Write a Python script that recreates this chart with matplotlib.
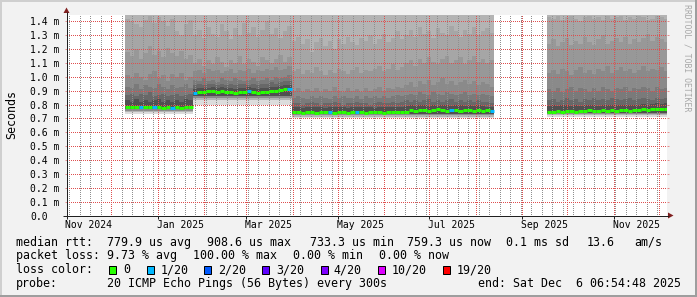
import numpy as np
import matplotlib
matplotlib.use('Agg')
import matplotlib.pyplot as plt
import matplotlib.dates as mdates
from matplotlib.collections import LineCollection
from matplotlib.patches import Rectangle, Polygon
from matplotlib.ticker import MultipleLocator, FuncFormatter, NullFormatter

plt.rcParams['font.family'] = 'DejaVu Sans Mono'

# ---------------- data: smokeping rtt, values in ms, one value per 3 days ----------------
run_start = ['2024-12-10T12:00', '2025-09-17T12:00']
run_len = [82, 27]
seg_len = [15, 22, 45, 27]          # periods with a different smoke shape

# median rtt
med = [
    0.785, 0.785, 0.78, 0.785, 0.78, 0.78, 0.785, 0.78, 0.775, 0.78, 0.775, 0.78, 0.775, 0.78, 0.78,
    0.885, 0.89, 0.89, 0.895, 0.895, 0.89, 0.895, 0.89, 0.89, 0.885, 0.89, 0.89, 0.895, 0.89, 0.885,
    0.89, 0.89, 0.895, 0.90, 0.905, 0.91, 0.915,
    0.745, 0.745, 0.74, 0.745, 0.745, 0.74, 0.745, 0.745, 0.745, 0.74, 0.745, 0.745, 0.74, 0.745, 0.745,
    0.745, 0.74, 0.745, 0.745, 0.745, 0.74, 0.745, 0.75, 0.745, 0.745, 0.75, 0.76, 0.755, 0.76, 0.76,
    0.755, 0.76, 0.765, 0.76, 0.755, 0.76, 0.76, 0.755, 0.76, 0.76, 0.755, 0.76, 0.755, 0.76, 0.755,
    0.75, 0.75, 0.755, 0.75, 0.755, 0.755, 0.75, 0.755, 0.755, 0.76, 0.755, 0.755, 0.76, 0.755, 0.76,
    0.755, 0.76, 0.76, 0.755, 0.76, 0.76, 0.765, 0.76, 0.765, 0.77, 0.765, 0.77,
]
# upper smoke edges, outer to inner
hi1 = [
    1.42, 1.40, 1.38, 1.36, 1.41, 1.44, 1.39, 1.43, 1.40, 1.37, 1.42, 1.33, 1.30, 1.38, 1.41,
    1.30, 1.34, 1.28, 1.36, 1.31, 1.29, 1.38, 1.33, 1.27, 1.35, 1.30, 1.39, 1.32, 1.36, 1.29,
    1.34, 1.40, 1.31, 1.35, 1.28, 1.33, 1.37,
    1.26, 1.29, 1.24, 1.27, 1.18, 1.25, 1.28, 1.22, 1.26, 1.20, 1.27, 1.24, 1.29, 1.25, 1.23,
    1.28, 1.26, 1.30, 1.24, 1.27, 1.31, 1.25, 1.28, 1.33, 1.27, 1.30, 1.34, 1.29, 1.36, 1.31,
    1.33, 1.28, 1.35, 1.32, 1.30, 1.37, 1.33, 1.29, 1.34, 1.31, 1.36, 1.30, 1.33, 1.35, 1.32,
    1.43, 1.42, 1.44, 1.41, 1.43, 1.44, 1.42, 1.40, 1.43, 1.44, 1.42, 1.43, 1.41, 1.44, 1.42,
    1.43, 1.44, 1.41, 1.43, 1.42, 1.44, 1.43, 1.41, 1.42, 1.44, 1.43, 1.42,
]
hi2 = [
    1.18, 1.15, 1.20, 1.13, 1.17, 1.22, 1.16, 1.19, 1.14, 1.21, 1.17, 1.15, 1.19, 1.13, 1.16,
    1.10, 1.13, 1.08, 1.12, 1.09, 1.14, 1.11, 1.07, 1.12, 1.10, 1.15, 1.09, 1.13, 1.11, 1.08,
    1.14, 1.12, 1.10, 1.13, 1.16, 1.11, 1.14,
    1.04, 1.06, 1.02, 1.05, 1.03, 1.07, 1.04, 1.01, 1.05, 1.03, 1.06, 1.04, 1.02, 1.05, 1.07,
    1.03, 1.05, 1.04, 1.06, 1.08, 1.04, 1.06, 1.09, 1.05, 1.07, 1.10, 1.12, 1.08, 1.13, 1.10,
    1.14, 1.11, 1.09, 1.13, 1.15, 1.10, 1.12, 1.14, 1.09, 1.12, 1.15, 1.11, 1.13, 1.10, 1.12,
    1.24, 1.27, 1.22, 1.25, 1.28, 1.23, 1.26, 1.24, 1.29, 1.25, 1.23, 1.27, 1.30, 1.24, 1.26,
    1.28, 1.25, 1.29, 1.24, 1.27, 1.25, 1.28, 1.31, 1.26, 1.29, 1.27, 1.25,
]
hi3 = [
    1.01, 0.99, 1.03, 1.00, 0.98, 1.02, 1.04, 0.99, 1.01, 0.97, 1.02, 1.00, 1.03, 0.98, 1.00,
    1.04, 1.05, 1.03, 1.06, 1.04, 1.05, 1.03, 1.04, 1.06, 1.03, 1.05, 1.04, 1.06, 1.03, 1.05,
    1.04, 1.06, 1.05, 1.07, 1.05, 1.06, 1.08,
    0.90, 0.92, 0.89, 0.91, 0.90, 0.92, 0.89, 0.91, 0.90, 0.93, 0.90, 0.89, 0.92, 0.90, 0.91,
    0.89, 0.92, 0.90, 0.91, 0.93, 0.90, 0.92, 0.91, 0.93, 0.92, 0.94, 0.96, 0.93, 0.97, 0.95,
    0.98, 0.94, 0.96, 0.99, 0.95, 0.97, 0.94, 0.96, 0.98, 0.95, 0.97, 0.94, 0.96, 0.95, 0.93,
    1.03, 1.05, 1.02, 1.06, 1.04, 1.01, 1.05, 1.07, 1.03, 1.05, 1.02, 1.06, 1.04, 1.08, 1.03,
    1.05, 1.07, 1.04, 1.06, 1.03, 1.05, 1.08, 1.04, 1.06, 1.05, 1.07, 1.04,
]
hi4 = [
    0.93, 0.92, 0.95, 0.91, 0.94, 0.93, 0.92, 0.95, 0.93, 0.91, 0.94, 0.92, 0.93, 0.95, 0.92,
    0.98, 0.97, 0.99, 0.97, 0.98, 0.96, 0.99, 0.98, 0.97, 0.99, 0.98, 0.97, 0.98, 0.99, 0.97,
    0.98, 0.99, 0.98, 1.00, 0.99, 1.00, 1.01,
    0.85, 0.86, 0.85, 0.84, 0.86, 0.85, 0.86, 0.85, 0.84, 0.86, 0.85, 0.86, 0.85, 0.85, 0.86,
    0.84, 0.86, 0.85, 0.86, 0.85, 0.86, 0.85, 0.86, 0.87, 0.86, 0.87, 0.88, 0.87, 0.89, 0.88,
    0.87, 0.89, 0.88, 0.87, 0.89, 0.88, 0.87, 0.88, 0.89, 0.87, 0.88, 0.87, 0.88, 0.87, 0.86,
    0.91, 0.90, 0.92, 0.89, 0.91, 0.93, 0.90, 0.92, 0.91, 0.89, 0.92, 0.90, 0.93, 0.91, 0.90,
    0.92, 0.91, 0.93, 0.90, 0.92, 0.91, 0.93, 0.92, 0.90, 0.93, 0.91, 0.92,
]
hi5 = [
    0.87, 0.88, 0.86, 0.88, 0.87, 0.89, 0.86, 0.87, 0.88, 0.86, 0.87, 0.88, 0.86, 0.87, 0.88,
    0.94, 0.95, 0.94, 0.95, 0.95, 0.94, 0.95, 0.94, 0.95, 0.94, 0.95, 0.95, 0.94, 0.95, 0.94,
    0.95, 0.95, 0.96, 0.95, 0.96, 0.97, 0.97,
    0.81, 0.81, 0.80, 0.81, 0.82, 0.81, 0.80, 0.81, 0.81, 0.82, 0.81, 0.80, 0.81, 0.81, 0.82,
    0.81, 0.81, 0.80, 0.81, 0.82, 0.81, 0.81, 0.82, 0.81, 0.82, 0.83, 0.82, 0.83, 0.82, 0.83,
    0.84, 0.82, 0.83, 0.82, 0.83, 0.84, 0.82, 0.83, 0.82, 0.83, 0.82, 0.83, 0.82, 0.82, 0.81,
    0.83, 0.84, 0.82, 0.83, 0.85, 0.83, 0.84, 0.82, 0.84, 0.83, 0.85, 0.83, 0.84, 0.83, 0.85,
    0.84, 0.83, 0.84, 0.85, 0.83, 0.84, 0.85, 0.84, 0.83, 0.85, 0.84, 0.85,
]
hi6 = [
    0.83, 0.82, 0.84, 0.82, 0.83, 0.82, 0.83, 0.84, 0.82, 0.83, 0.82, 0.83, 0.82, 0.84, 0.83,
    0.91, 0.92, 0.92, 0.92, 0.925, 0.92, 0.925, 0.92, 0.92, 0.915, 0.92, 0.92, 0.925, 0.92, 0.915,
    0.92, 0.92, 0.925, 0.93, 0.935, 0.94, 0.945,
    0.78, 0.78, 0.775, 0.78, 0.785, 0.78, 0.78, 0.775, 0.78, 0.78, 0.785, 0.78, 0.775, 0.78, 0.78,
    0.785, 0.78, 0.78, 0.775, 0.78, 0.785, 0.78, 0.78, 0.785, 0.78, 0.79, 0.795, 0.79, 0.795, 0.80,
    0.79, 0.795, 0.79, 0.80, 0.795, 0.79, 0.795, 0.80, 0.79, 0.795, 0.79, 0.795, 0.79, 0.785, 0.785,
    0.79, 0.80, 0.79, 0.795, 0.80, 0.79, 0.795, 0.79, 0.80, 0.795, 0.80, 0.79, 0.80, 0.795, 0.80,
    0.795, 0.80, 0.80, 0.795, 0.80, 0.80, 0.805, 0.80, 0.805, 0.81, 0.805, 0.81,
]
# lower smoke edges, one value per period (outer to inner)
lo1_seg = [0.735, 0.80, 0.705, 0.713]
lo2_seg = [0.745, 0.83, 0.714, 0.722]
lo3_seg = [0.755, 0.85, 0.722, 0.730]
lo4_seg = [0.765, 0.865, 0.730, 0.738]

# steps with 1/20 packets lost (all others 0)
loss_1of20 = [3, 6, 10, 15, 27, 36, 45, 51, 72, 81]

loss_levels = [0, 1, 2, 3, 4, 10, 19]
loss_labels = ['0', '1/20', '2/20', '3/20', '4/20', '10/20', '19/20']
loss_hex = ['#26ff00', '#00b8ff', '#0059ff', '#5e00ff', '#7e00ff', '#dd00ff', '#ff0000']
loss_colors = dict(zip(loss_levels, loss_hex))

# ---------------- build arrays ----------------
step = np.timedelta64(3, 'D')
t = np.concatenate([np.datetime64(s) + np.arange(n) * step for s, n in zip(run_start, run_len)])
t = mdates.date2num(t)
n = len(t)
med = np.array(med); hi1 = np.array(hi1); hi2 = np.array(hi2); hi3 = np.array(hi3)
hi4 = np.array(hi4); hi5 = np.array(hi5); hi6 = np.array(hi6)
for a in (med, hi1, hi2, hi3, hi4, hi5, hi6):
    if len(a) != n:
        raise ValueError('length %d != %d' % (len(a), n))
lo1 = np.repeat(lo1_seg, seg_len)
lo2 = np.repeat(lo2_seg, seg_len)
lo3 = np.repeat(lo3_seg, seg_len)
lo4 = np.repeat(lo4_seg, seg_len)
ceil = np.full(n, 2.0)
loss = np.zeros(n, int)
loss[loss_1of20] = 1

# ---------------- figure ----------------
W, H = 697, 297
BACK = '#f2f2f2'
GRID = (0.56, 0.56, 0.56, 0.75)
MGRID = (0.87, 0.31, 0.31, 0.60)

fig = plt.figure(figsize=(W / 100, H / 100), dpi=100, facecolor=BACK)
ax = fig.add_axes([66.5 / W, (H - 215.5) / H, 600 / W, 201 / H])
ax.set_facecolor('white')
for s in ax.spines.values():
    s.set_visible(False)

x0 = mdates.date2num(np.datetime64('2024-11-01T06:54:48'))
x1 = mdates.date2num(np.datetime64('2025-12-06T06:54:48'))
ax.set_xlim(x0, x1)
ax.set_ylim(0, 1.45)

# smoke
bands = [(lo1, ceil, '#dcdcdc'), (lo2, ceil, '#b4b4b4'),
         (lo3, hi1, '#a6a6a6'), (lo3, hi2, '#989898'), (lo3, hi3, '#8a8a8a'),
         (lo4, hi4, '#7a7a7a'), (lo4, hi5, '#686868'), (lo4, hi6, '#505050')]
for lo, hi, col in bands:
    ax.bar(t, hi - lo, bottom=lo, width=3, align='edge', color=col,
           linewidth=0, antialiased=False, zorder=1)

# median coloured by loss
segs = [[(t[i], med[i]), (t[i] + 3, med[i])] for i in range(n)]
cols = [loss_colors[loss[i]] for i in range(n)]
ax.add_collection(LineCollection(segs, colors=cols, linewidths=2.2,
                                 capstyle='butt', zorder=4))

# grid (monthly red, weekly grey, 0.1 ms red), dotted 1 px on / 1 px off
ax.set_axisbelow(False)
ax.xaxis.set_major_locator(mdates.MonthLocator())
ax.xaxis.set_minor_locator(mdates.WeekdayLocator(byweekday=mdates.SU))
ax.xaxis.set_major_formatter(NullFormatter())
ax.yaxis.set_major_locator(MultipleLocator(0.1))
ax.yaxis.set_major_formatter(FuncFormatter(
    lambda v, p: '0.0' if abs(v) < 1e-9 else '%.1f m' % v))

dots = (0.5, (1, 1))
ax.grid(True, which='minor', axis='x', color=GRID, linestyle=dots, linewidth=0.72)
ax.grid(True, which='major', axis='x', color=MGRID, linestyle=dots, linewidth=0.72)
ax.grid(True, which='major', axis='y', color=MGRID, linestyle=dots, linewidth=0.72)

ax.tick_params(axis='x', which='both', length=0, top=False, bottom=False)
ax.tick_params(axis='y', which='major', direction='out', length=1.44, width=0.72,
               color=MGRID, left=True, right=True, pad=24.84, labelsize=7.05)
plt.setp(ax.get_yticklabels(), ha='left')

# month labels every two months, centred mid month, ticks at month start
sec = ax.secondary_xaxis('bottom')
sec.spines['bottom'].set_visible(False)
sec.xaxis.set_major_locator(mdates.MonthLocator(bymonth=(1, 3, 5, 7, 9, 11), bymonthday=16))
sec.xaxis.set_major_formatter(mdates.DateFormatter('%b %Y'))
sec.xaxis.set_minor_locator(mdates.MonthLocator(bymonth=(1, 3, 5, 7, 9, 11)))
sec.tick_params(axis='x', which='major', length=0, pad=3.2, labelsize=7.05)
sec.tick_params(axis='x', which='minor', direction='out', length=2.2, width=0.72, color='#1f1f1f')

# ---------------- overlay in pixel coordinates ----------------
ov = fig.add_axes([0, 0, 1, 1], zorder=5)
ov.set_xlim(0, W)
ov.set_ylim(H, 0)
ov.axis('off')
ov.patch.set_alpha(0)

# 3d frame
ov.add_patch(Rectangle((0, 0), W, 2, color='#cfcfcf', lw=0))
ov.add_patch(Rectangle((0, 0), 2, H, color='#cfcfcf', lw=0))
ov.add_patch(Rectangle((0, H - 2), W, 2, color='#9e9e9e', lw=0))
ov.add_patch(Rectangle((W - 2, 0), 2, H, color='#9e9e9e', lw=0))

# axes with arrows
ov.plot([62.5, 669], [215.5, 215.5], color='#1f1f1f', lw=0.72, solid_capstyle='butt')
ov.plot([66.5, 66.5], [219, 12], color='#1f1f1f', lw=0.72, solid_capstyle='butt')
ov.add_patch(Polygon([(668, 212.5), (668, 218.5), (673.5, 215.5)], color='#801f1f', lw=0))
ov.add_patch(Polygon([(63.5, 13), (69.5, 13), (66.5, 7.5)], color='#801f1f', lw=0))

ov.text(15.3, 114.5, 'Seconds', rotation=90, rotation_mode='anchor',
        ha='center', va='baseline', fontsize=8.35, color='black')
ov.text(684.3, 4.5, 'RRDTOOL / TOBI OETIKER', rotation=270, rotation_mode='anchor',
        ha='left', va='baseline', fontsize=5.85, color='#a8a8a8')

# legend
FS = 8.35
rows = [
    (245.7, [(15.5, 'median rtt:'), (106.8, '779.9 us avg'), (206.8, '908.6 us max'),
             (310.2, '733.3 us min'), (407.2, '759.3 us now'), (506.2, '0.1 ms sd'),
             (586.2, '13.6'), (634.5, 'am/s')]),
    (259.4, [(15.5, 'packet loss:'), (106.8, '9.73 % avg'), (192.8, '100.00 % max'),
             (292.8, '0.00 % min'), (378.8, '0.00 % now')]),
    (273.1, [(15.5, 'loss color:')]),
    (286.8, [(15.5, 'probe:'), (106.8, '20 ICMP Echo Pings (56 Bytes) every 300s'),
             (477.8, 'end: Sat Dec  6 06:54:48 2025')]),
]
for y, items in rows:
    for x, s in items:
        ov.text(x, y, s, fontsize=FS, ha='left', va='baseline', color='black')

box_x = [108.5, 146.5, 203.5, 261.5, 320.5, 377.5, 442.5]
lab_x = [123.5, 160.5, 217.8, 276.2, 333.5, 391.2, 456.2]
for col, lab, bx, lx in zip(loss_hex, loss_labels, box_x, lab_x):
    ov.add_patch(Rectangle((bx, 265.5), 7, 8, facecolor=col, edgecolor='black', lw=0.72))
    ov.text(lx, 273.1, lab, fontsize=FS, ha='left', va='baseline', color='black')

fig.savefig('out.png', dpi=100, facecolor=BACK)
